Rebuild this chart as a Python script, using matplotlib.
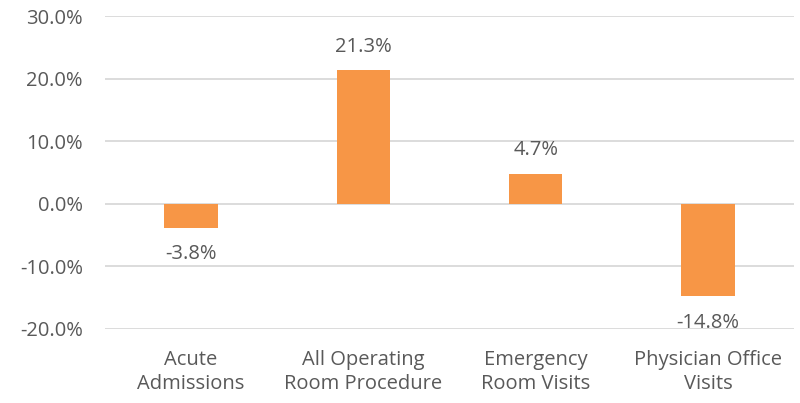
import matplotlib.pyplot as plt
import numpy as np

plt.rcParams.update({
    "font.family": ["Open Sans", "DejaVu Sans"],
    "figure.facecolor": "white",
})

categories = ["Acute\nAdmissions", "All Operating\nRoom Procedure",
              "Emergency\nRoom Visits", "Physician Office\nVisits"]
values = [-3.8, 21.3, 4.7, -14.8]
yticks = [-20, -10, 0, 10, 20, 30]

TEXT = "#595959"
BAR = "#F79646"
FS = 14.5

fig = plt.figure(figsize=(8, 4.03), dpi=100)
ax = fig.add_axes([105 / 800, 1 - 329 / 403, (794 - 105) / 800, (329 - 16) / 403])

x = np.arange(len(categories))
ax.bar(x, values, width=0.31, color=BAR, zorder=3)

for xi, v in zip(x, values):
    off = 10 if v >= 0 else -12
    ax.annotate(f"{v:.1f}%", (xi, v), xytext=(0, off), textcoords="offset points",
                ha="center", va="bottom" if v >= 0 else "top",
                fontsize=FS, color=TEXT)

ax.set_xlim(-0.5, len(categories) - 0.5)
ax.set_ylim(-20, 30)
ax.set_yticks(yticks)
ax.set_yticklabels([f"{t:.1f}%" for t in yticks])
ax.set_xticks(x)
ax.set_xticklabels(categories, linespacing=1.3)
ax.tick_params(axis="both", length=0, labelsize=FS, labelcolor=TEXT)
ax.tick_params(axis="y", pad=16)
ax.tick_params(axis="x", pad=15)
ax.grid(axis="y", color="#D9D9D9", linewidth=1.3, zorder=0)
for s in ax.spines.values():
    s.set_visible(False)

fig.savefig("out.png", dpi=100)
